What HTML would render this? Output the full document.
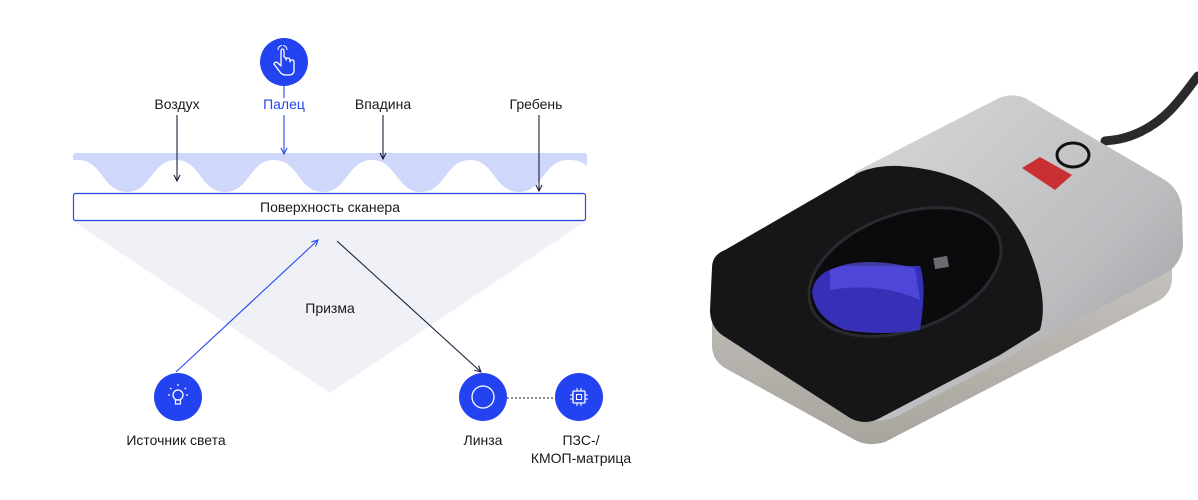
<!DOCTYPE html>
<html><head><meta charset="utf-8"><style>
html,body{margin:0;padding:0;background:#fff;}
body{width:1198px;height:500px;overflow:hidden;position:relative;font-family:"Liberation Sans",sans-serif;}
.t{position:absolute;font-size:14px;color:#1a1a1a;white-space:nowrap;transform:translateX(-50%);text-align:center;line-height:18px;}
</style></head><body>
<svg width="1198" height="500" style="position:absolute;left:0;top:0">
<defs>
<marker id="ad" viewBox="0 0 10 10" refX="9" refY="5" markerWidth="7" markerHeight="7" orient="auto"><path d="M1,1 L9,5 L1,9" fill="none" stroke="#1b1f3b" stroke-width="1.4"/></marker>
<marker id="ab" viewBox="0 0 10 10" refX="9" refY="5" markerWidth="7" markerHeight="7" orient="auto"><path d="M1,1 L9,5 L1,9" fill="none" stroke="#2747f0" stroke-width="1.4"/></marker>
<linearGradient id="sil" x1="0" y1="0" x2="1" y2="1"><stop offset="0" stop-color="#d8d8da"/><stop offset="0.6" stop-color="#bdbdc0"/><stop offset="1" stop-color="#9a9a9e"/></linearGradient>
<linearGradient id="base" x1="0" y1="0" x2="0" y2="1"><stop offset="0" stop-color="#c8c5c0"/><stop offset="1" stop-color="#a8a49e"/></linearGradient>
</defs>
<!-- prism -->
<polygon points="73,221 586,221 330,393" fill="#eff1f6"/>
<!-- wave band -->
<path d="M76,153 H584 Q587,153 587,156 V166 C580,160 574,160 568,160 C543.5,160 543.5,192 519,192 C494.5,192 494.5,160 470,160 C445.5,160 445.5,192 421,192 C396.5,192 396.5,160 372,160 C347.5,160 347.5,192 323,192 C298.5,192 298.5,160 274,160 C249.5,160 249.5,192 225,192 C200.5,192 200.5,160 176,160 C151.5,160 151.5,192 127,192 C102.5,192 102.5,160 78,160 L73,160 V156 Q73,153 76,153 Z" fill="#cfd8fb"/>
<!-- scanner surface -->
<rect x="73.5" y="193.5" width="512" height="27" rx="2" fill="#fff" stroke="#2747f0" stroke-width="1.2"/>
<!-- label arrows -->
<line x1="177" y1="115" x2="177" y2="181" stroke="#1b1f3b" stroke-width="1.1" marker-end="url(#ad)"/>
<line x1="284" y1="85" x2="284" y2="98" stroke="#2747f0" stroke-width="1.1"/>
<line x1="284" y1="115" x2="284" y2="154" stroke="#2747f0" stroke-width="1.1" marker-end="url(#ab)"/>
<line x1="383" y1="115" x2="383" y2="159" stroke="#1b1f3b" stroke-width="1.1" marker-end="url(#ad)"/>
<line x1="539" y1="115" x2="539" y2="191" stroke="#1b1f3b" stroke-width="1.1" marker-end="url(#ad)"/>
<!-- rays -->
<line x1="176" y1="372" x2="318" y2="240" stroke="#2747f0" stroke-width="1.1" marker-end="url(#ab)"/>
<line x1="337" y1="241" x2="481" y2="372" stroke="#1b1f3b" stroke-width="1.1" marker-end="url(#ad)"/>
<line x1="507" y1="398" x2="555" y2="398" stroke="#1b1f3b" stroke-width="1" stroke-dasharray="2,2"/>
<!-- circles -->
<circle cx="284" cy="62" r="24" fill="#2343f0"/>
<circle cx="178" cy="397" r="24" fill="#2343f0"/>
<circle cx="483" cy="397" r="24" fill="#2343f0"/>
<circle cx="579" cy="397" r="24" fill="#2343f0"/>
<!-- hand icon -->
<path d="M281,52 V66 L278,63 Q275,61 274,64 L280,72 Q282,75 286,75 H289 Q294,75 294,70 V62 Q294,60 292,60 Q290,60 290,62 V61 Q290,58 288,58 Q286,58 286,60 V60 Q286,57 284,57 V52 Q284,49 282.5,49 Q281,49 281,52 Z" fill="none" stroke="#fff" stroke-width="1.3" stroke-linejoin="round"/>
<path d="M278,50 Q278,46 282,45.5 M287,50 Q287,46 283,45.5" fill="none" stroke="#fff" stroke-width="1"/>
<!-- bulb -->
<circle cx="178" cy="395" r="5" fill="none" stroke="#fff" stroke-width="1.3"/>
<rect x="175.5" y="400" width="5" height="4" fill="none" stroke="#fff" stroke-width="1.2"/>
<g stroke="#fff" stroke-width="1.2"><line x1="178" y1="384" x2="178" y2="386"/><line x1="170" y1="388" x2="171.5" y2="389"/><line x1="186" y1="388" x2="184.5" y2="389"/><line x1="168" y1="395" x2="170" y2="395"/><line x1="186" y1="395" x2="188" y2="395"/></g>
<!-- lens -->
<circle cx="483" cy="397" r="11" fill="none" stroke="#fff" stroke-width="1.3"/>
<!-- chip -->
<rect x="573" y="391" width="12" height="12" rx="1" fill="none" stroke="#fff" stroke-width="1.3"/>
<rect x="576.5" y="394.5" width="5" height="5" fill="none" stroke="#fff" stroke-width="1"/>
<g stroke="#fff" stroke-width="1"><line x1="577" y1="388" x2="577" y2="391"/><line x1="581" y1="388" x2="581" y2="391"/><line x1="577" y1="403" x2="577" y2="406"/><line x1="581" y1="403" x2="581" y2="406"/><line x1="570" y1="395" x2="573" y2="395"/><line x1="570" y1="399" x2="573" y2="399"/><line x1="585" y1="395" x2="588" y2="395"/><line x1="585" y1="399" x2="588" y2="399"/></g>

<!-- scanner photo -->
<path d="M1198,76 C1185,92 1170,118 1140,132 C1125,139 1115,140 1105,141" fill="none" stroke="#2a2a2c" stroke-width="9" stroke-linecap="round"/>
<!-- base -->
<path d="M712,300 L712,345 Q712,360 725,368 L855,440 Q868,447 885,442 L1160,300 Q1172,292 1172,278 L1172,245 Z" fill="url(#base)"/>
<!-- silver top -->
<path d="M855,172 L995,100 Q1010,92 1025,98 L1165,180 Q1180,190 1182,208 L1183,245 Q1182,262 1168,272 L900,415 Q880,425 865,418 Z" fill="url(#sil)"/>
<!-- black part -->
<path d="M712,268 Q712,255 725,250 L858,173 Q875,165 900,166 Q990,172 1025,240 Q1050,295 1040,330 L1000,355 L880,418 Q865,426 850,418 L722,335 Q710,326 710,310 Z" fill="#161618"/>
<!-- lens oval -->
<ellipse cx="905" cy="272" rx="100" ry="58" transform="rotate(-20 905 272)" fill="#0b0b0d" stroke="#2a2a2e" stroke-width="3"/>
<path d="M812,292 Q815,270 845,266 L920,266 Q927,285 920,330 Q880,336 845,330 Q815,318 812,292 Z" fill="#3a34c8" opacity="0.9"/>
<path d="M830,270 Q860,255 915,268 L920,300 Q880,282 830,290 Z" fill="#5a50e8" opacity="0.7"/>
<rect x="934" y="257" width="14" height="11" fill="#6b6b70" transform="rotate(-10 941 262)"/>
<!-- red & ring -->
<polygon points="1022,168 1040,157 1072,175 1055,190" fill="#c83034"/>
<ellipse cx="1073" cy="155" rx="16" ry="12" fill="none" stroke="#111" stroke-width="3"/>
</svg>
<div class="t" style="left:177px;top:95px">Воздух</div>
<div class="t" style="left:284px;top:95px;color:#2747f0">Палец</div>
<div class="t" style="left:383px;top:95px">Впадина</div>
<div class="t" style="left:536px;top:95px">Гребень</div>
<div class="t" style="left:330px;top:198px">Поверхность сканера</div>
<div class="t" style="left:330px;top:299px">Призма</div>
<div class="t" style="left:176px;top:431px">Источник света</div>
<div class="t" style="left:483px;top:431px">Линза</div>
<div class="t" style="left:581px;top:431px">ПЗС-/<br>КМОП-матрица</div>
</body></html>
